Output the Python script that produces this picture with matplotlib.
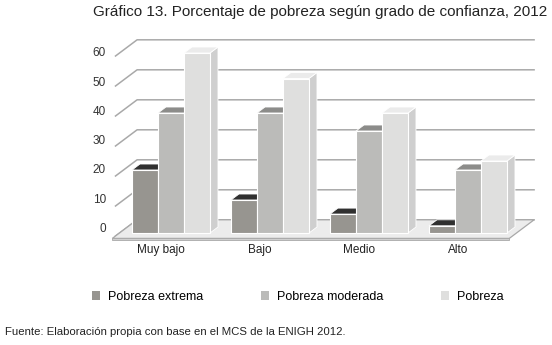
import matplotlib.pyplot as plt
from matplotlib.patches import Polygon, Patch

plt.rcParams['font.family'] = ['Liberation Sans', 'DejaVu Sans']

# data
categorias = ['Muy bajo', 'Bajo', 'Medio', 'Alto']
series = ['Pobreza extrema', 'Pobreza moderada', 'Pobreza']
extrema = [21, 11, 6.3, 2.4]
moderada = [40, 40, 34, 21]
pobreza = [60, 51.5, 40, 24]
ticks = [0, 10, 20, 30, 40, 50, 60]

front_col = ['#979590', '#bbbbb9', '#dfdfde']
top_col = ['#303030', '#8c8c8a', '#ebebeb']
side_col = ['#7a7874', '#a5a5a3', '#cfcfcf']

# fake depth: one depth unit moves 8 px right and 6 px up
DX = 8 / 99
DY = 2.0
def proj(x, v, d):
    return (x + d * DX, v + d * DY)

fig = plt.figure(figsize=(5.52, 3.45), dpi=100)
ax = fig.add_axes([100 / 552, 85 / 345, 445 / 552, 230 / 345])
ax.set_xlim(-0.717, 3.778)
ax.set_ylim(-9, 67.67)
ax.axis('off')

L, R = -0.52, 3.49
# back wall grid lines
for t in ticks:
    p0 = proj(L, t, -0.5)
    p1 = proj(L, t, 2.2)
    p2 = proj(R, t, 2.2)
    ax.plot([p0[0], p1[0], p2[0]], [p0[1], p1[1], p2[1]], color='#a9a9a9', lw=1.1, zorder=1)
    ax.text(-0.657, t * 0.977 + 1.3, str(t), ha='right', va='center', fontsize=8.5, color='#333333')

# floor slab
floor = [proj(L, 0, -0.9), proj(R, 0, -0.9), proj(R, 0, 2.2), proj(L, 0, 2.2)]
ax.add_patch(Polygon(floor, closed=True, facecolor='#ececec', edgecolor='#a8a8a8', lw=0.9, zorder=1.5))
strip = [proj(L, 0, -0.9), proj(R, 0, -0.9), proj(R, -0.6, -0.9), proj(L, -0.6, -0.9)]
ax.add_patch(Polygon(strip, closed=True, facecolor='#cfcfcf', edgecolor='#a8a8a8', lw=0.6, zorder=1.5))

w = 26 / 99
valores = [extrema, moderada, pobreza]
z = 2
for i, cat in enumerate(categorias):
    for j, vals in enumerate(valores):
        h = vals[i]
        x0 = i + (j - 1.5) * w
        x1 = x0 + w
        top = [proj(x0, h, 0), proj(x1, h, 0), proj(x1, h, 1), proj(x0, h, 1)]
        side = [proj(x1, 0, 0), proj(x1, h, 0), proj(x1, h, 1), proj(x1, 0, 1)]
        ax.add_patch(Polygon(side, closed=True, facecolor=side_col[j], edgecolor='white', lw=0.6, zorder=z))
        ax.add_patch(Polygon(top, closed=True, facecolor=top_col[j], edgecolor='white', lw=0.6, zorder=z))
        ax.bar(x0, h, width=w, align='edge', color=front_col[j], edgecolor='white', lw=0.8, zorder=z + 0.001)
        z += 0.01
    ax.text(i - 0.1, -5.7, cat, ha='center', va='center', fontsize=8.5, color='#222222')

fig.text(320 / 552, 1 - 12 / 345, 'Gráfico 13. Porcentaje de pobreza según grado de confianza, 2012',
         ha='center', va='center', fontsize=11, color='#222222')

handles = [Patch(facecolor=c, edgecolor='none') for c in front_col]
fig.legend(handles, series, loc='center', bbox_to_anchor=(297.5 / 552, 1 - 297 / 345), ncol=3,
           frameon=False, fontsize=9, handlelength=0.7, handleheight=0.7, handletextpad=0.6,
           columnspacing=4.6)

fig.text(5 / 552, 1 - 332 / 345, 'Fuente: Elaboración propia con base en el MCS de la ENIGH 2012.',
         ha='left', va='center', fontsize=8.2, color='#222222')

fig.savefig('out.png', dpi=100)
